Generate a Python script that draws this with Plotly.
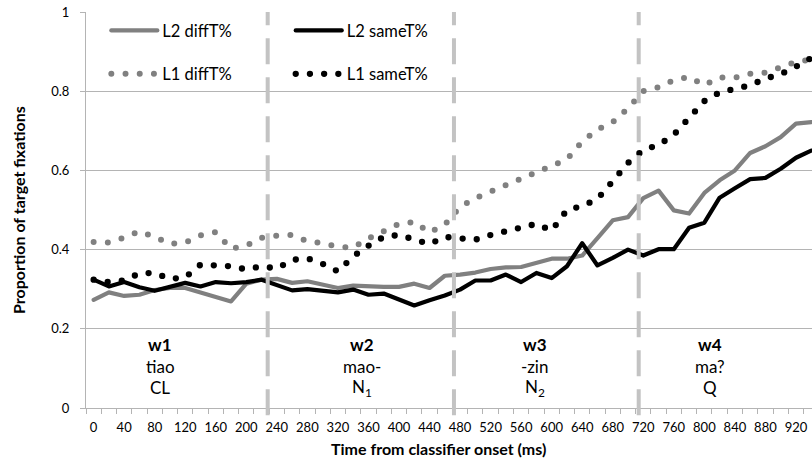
import plotly.graph_objects as go

# ---------------- data ----------------
time_ms = [0, 20, 40, 60, 80, 100, 120, 140, 160, 180, 200, 220, 240, 260, 280, 300,
           320, 340, 360, 380, 400, 420, 440, 460, 480, 500, 520, 540, 560, 580, 600, 620,
           640, 660, 680, 700, 720, 740, 760, 780, 800, 820, 840, 860, 880, 900, 920, 940]

l2_diff = [0.273, 0.292, 0.283, 0.286, 0.298, 0.303, 0.303, 0.292, 0.280, 0.269, 0.314, 0.324,
           0.326, 0.316, 0.320, 0.311, 0.303, 0.309, 0.307, 0.306, 0.306, 0.314, 0.303, 0.334,
           0.337, 0.342, 0.351, 0.355, 0.356, 0.366, 0.377, 0.377, 0.385, 0.429, 0.474, 0.482,
           0.530, 0.549, 0.499, 0.491, 0.543, 0.575, 0.600, 0.644, 0.661, 0.684, 0.718, 0.722]

l2_same = [0.324, 0.307, 0.318, 0.305, 0.296, 0.307, 0.316, 0.307, 0.318, 0.315, 0.318, 0.324,
           0.311, 0.297, 0.300, 0.295, 0.292, 0.299, 0.286, 0.289, 0.275, 0.259, 0.272, 0.284,
           0.299, 0.322, 0.322, 0.337, 0.318, 0.341, 0.328, 0.358, 0.416, 0.360, 0.379, 0.400,
           0.385, 0.401, 0.401, 0.455, 0.468, 0.531, 0.555, 0.578, 0.581, 0.604, 0.632, 0.650]

l1_diff = [0.419, 0.418, 0.430, 0.446, 0.432, 0.414, 0.418, 0.436, 0.444, 0.402, 0.410, 0.430,
           0.435, 0.437, 0.421, 0.416, 0.407, 0.405, 0.428, 0.445, 0.465, 0.470, 0.443, 0.463,
           0.508, 0.530, 0.546, 0.564, 0.580, 0.598, 0.613, 0.628, 0.673, 0.703, 0.722, 0.757,
           0.800, 0.810, 0.828, 0.836, 0.815, 0.835, 0.834, 0.844, 0.847, 0.860, 0.874, 0.880]

l1_same = [0.324, 0.318, 0.322, 0.340, 0.341, 0.326, 0.330, 0.362, 0.360, 0.358, 0.350, 0.358,
           0.352, 0.374, 0.378, 0.364, 0.345, 0.383, 0.410, 0.432, 0.437, 0.426, 0.414, 0.432,
           0.428, 0.425, 0.437, 0.447, 0.459, 0.465, 0.448, 0.500, 0.510, 0.528, 0.573, 0.619,
           0.652, 0.664, 0.690, 0.733, 0.775, 0.797, 0.805, 0.815, 0.832, 0.843, 0.862, 0.884]

x_tick_vals = [0, 40, 80, 120, 160, 200, 240, 280, 320, 360, 400, 440, 480, 520, 560, 600,
               640, 680, 720, 760, 800, 840, 880, 920]
y_tick_vals = [0, 0.2, 0.4, 0.6, 0.8, 1]
y_tick_text = ["0", "0.2", "0.4", "0.6", "0.8", "1"]

boundaries_ms = [228, 472, 714]
region_center_ms = [87, 351, 578, 807]
region_label = ["w1", "w2", "w3", "w4"]
region_word = ["tiao", "mao-", "-zin", "ma?"]
region_gloss = ["CL", "N<sub>1</sub>", "N<sub>2</sub>", "Q"]

# ---------------- styles ----------------
GRAY = "#808080"
BLACK = "#000000"
GRID = "#B4B4B4"
DOTS = "0px,14.2px"
FONT = "Lato"

fig = go.Figure()
fig.add_trace(go.Scatter(x=time_ms, y=l2_diff, mode="lines", name="L2 diffT%",
                         line=dict(color=GRAY, width=4.2), legend="legend", legendgroup="a"))
fig.add_trace(go.Scatter(x=time_ms, y=l2_same, mode="lines", name="L2 sameT%",
                         line=dict(color=BLACK, width=4.2), legend="legend2", legendgroup="b"))
fig.add_trace(go.Scatter(x=time_ms, y=l1_diff, mode="lines", name="L1 diffT%",
                         line=dict(color=GRAY, width=6, dash=DOTS), legend="legend", legendgroup="c"))
fig.add_trace(go.Scatter(x=time_ms, y=l1_same, mode="lines", name="L1 sameT%",
                         line=dict(color=BLACK, width=6.3, dash=DOTS), legend="legend2", legendgroup="d"))

for b in boundaries_ms:
    fig.add_shape(type="line", xref="x", yref="paper", x0=b, x1=b, y0=-0.018, y1=1,
                  line=dict(color="#C3C3C3", width=4, dash="26px,13px"), layer="above")

rows = [(region_label, 0.160, True), (region_word, 0.104, False), (region_gloss, 0.051, False)]
for texts, yv, bold in rows:
    for xc, t in zip(region_center_ms, texts):
        fig.add_annotation(x=xc, y=yv, xref="x", yref="y", text=(f"<b>{t}</b>" if bold else t),
                           showarrow=False, font=dict(family=FONT, size=17, color="#000"),
                           xanchor="center", yanchor="middle")

fig.add_annotation(x=0.485, y=-0.103, xref="paper", yref="paper",
                   text="<b>Time from classifier onset (ms)</b>", showarrow=False,
                   font=dict(family=FONT, size=16, color="#000"), xanchor="center", yanchor="middle")
fig.add_annotation(x=-0.0937, y=0.5, xref="paper", yref="paper", textangle=-90,
                   text="<b>Proportion of target fixations</b>", showarrow=False,
                   font=dict(family=FONT, size=16, color="#000"), xanchor="center", yanchor="middle")

legend_common = dict(orientation="v", bgcolor="rgba(0,0,0,0)", borderwidth=0,
                     font=dict(family=FONT, size=16.5, color="#000"), xanchor="left", yanchor="top",
                     tracegroupgap=19, traceorder="grouped", itemclick=False, itemwidth=46)

fig.update_layout(
    width=812, height=463,
    margin=dict(l=86, r=0, t=12, b=55, autoexpand=False),
    paper_bgcolor="white", plot_bgcolor="white",
    font=dict(family=FONT, size=13, color="#000"),
    showlegend=True,
    legend=dict(x=0.028, y=0.997, **legend_common),
    legend2=dict(x=0.282, y=0.997, **legend_common),
    xaxis=dict(range=[-10, 941], tickmode="array", tickvals=x_tick_vals, automargin=False,
               ticks="", showgrid=False, zeroline=False, showline=True, linecolor=GRID,
               linewidth=1, tickfont=dict(family=FONT, size=13, color="#000"),
               ticklabelstandoff=7,
               minor=dict(tickmode="linear", tick0=-10, dtick=20, ticks="outside", ticklen=5,
                          tickcolor=GRID, tickwidth=1, showgrid=False)),
    yaxis=dict(range=[0, 1], tickmode="array", tickvals=y_tick_vals, ticktext=y_tick_text,
               automargin=False,
               ticks="outside", ticklen=5, tickcolor=GRID, showgrid=True, gridcolor=GRID,
               gridwidth=1, zeroline=False, showline=True, linecolor=GRID, linewidth=1,
               tickfont=dict(family=FONT, size=13, color="#000"), ticklabelstandoff=8),
)

css = ("document.body.style.margin='0';"
       "var s=document.createElement('style');"
       "s.textContent='body{margin:0 !important;overflow:hidden;} .modebar-container{display:none !important;} .js-line{stroke-linecap:round !important;stroke-linejoin:round !important;}';"
       "document.head.appendChild(s);")
fig.write_html("out.html", post_script=css, config={"displayModeBar": False})
